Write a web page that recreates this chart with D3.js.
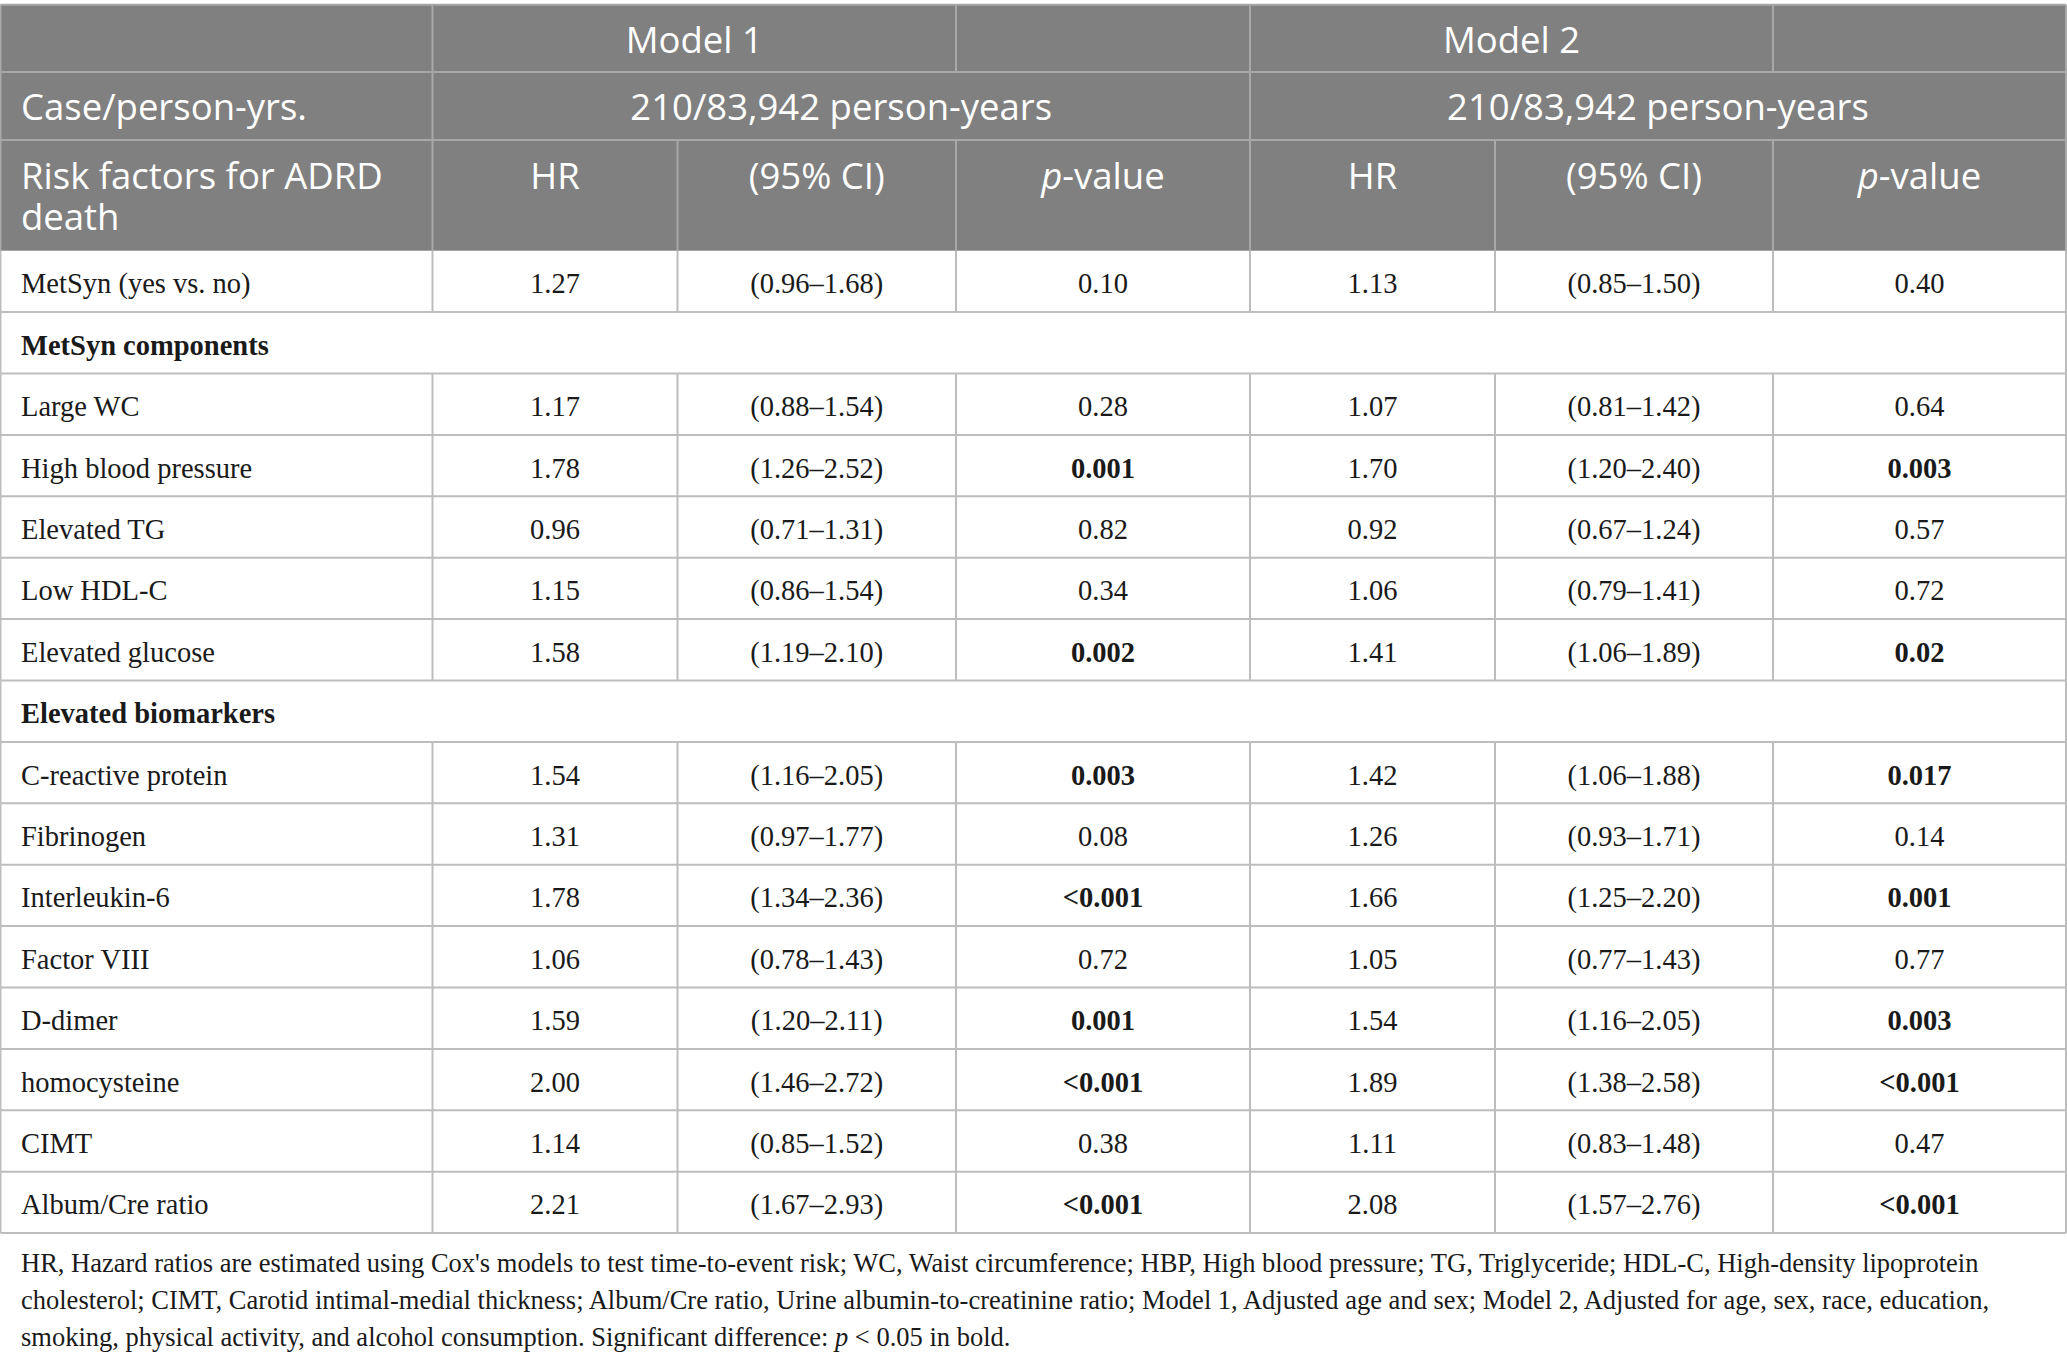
<!DOCTYPE html>
<html>
<head>
<meta charset="utf-8">
<script src="https://cdn.jsdelivr.net/npm/d3@7"></script>
<style>
  html, body { margin: 0; padding: 0; background: #fff; }
  svg { display: block; }
</style>
</head>
<body>
<svg id="chart" width="2067" height="1360"></svg>
<script>
// ---------------- DATA ----------------
const rowLabels = [
  "MetSyn (yes vs. no)", "MetSyn components", "Large WC", "High blood pressure",
  "Elevated TG", "Low HDL-C", "Elevated glucose", "Elevated biomarkers",
  "C-reactive protein", "Fibrinogen", "Interleukin-6", "Factor VIII",
  "D-dimer", "homocysteine", "CIMT", "Album/Cre ratio"
];
const sectionRows = ["MetSyn components", "Elevated biomarkers"];

const hrModel1   = [1.27, null, 1.17, 1.78, 0.96, 1.15, 1.58, null, 1.54, 1.31, 1.78, 1.06, 1.59, 2.00, 1.14, 2.21];
const ciLoModel1 = [0.96, null, 0.88, 1.26, 0.71, 0.86, 1.19, null, 1.16, 0.97, 1.34, 0.78, 1.20, 1.46, 0.85, 1.67];
const ciHiModel1 = [1.68, null, 1.54, 2.52, 1.31, 1.54, 2.10, null, 2.05, 1.77, 2.36, 1.43, 2.11, 2.72, 1.52, 2.93];
const pModel1    = ["0.10", null, "0.28", "0.001", "0.82", "0.34", "0.002", null, "0.003", "0.08", "<0.001", "0.72", "0.001", "<0.001", "0.38", "<0.001"];

const hrModel2   = [1.13, null, 1.07, 1.70, 0.92, 1.06, 1.41, null, 1.42, 1.26, 1.66, 1.05, 1.54, 1.89, 1.11, 2.08];
const ciLoModel2 = [0.85, null, 0.81, 1.20, 0.67, 0.79, 1.06, null, 1.06, 0.93, 1.25, 0.77, 1.16, 1.38, 0.83, 1.57];
const ciHiModel2 = [1.50, null, 1.42, 2.40, 1.24, 1.41, 1.89, null, 1.88, 1.71, 2.20, 1.43, 2.05, 2.58, 1.48, 2.76];
const pModel2    = ["0.40", null, "0.64", "0.003", "0.57", "0.72", "0.02", null, "0.017", "0.14", "0.001", "0.77", "0.003", "<0.001", "0.47", "<0.001"];

const modelNames = ["Model 1", "Model 2"];
const casePersonYears = ["210/83,942 person-years", "210/83,942 person-years"];
const subHeaders = ["HR", "(95% CI)", "p-value"];
const footnoteLines = [
  "HR, Hazard ratios are estimated using Cox's models to test time-to-event risk; WC, Waist circumference; HBP, High blood pressure; TG, Triglyceride; HDL-C, High-density lipoprotein",
  "cholesterol; CIMT, Carotid intimal-medial thickness; Album/Cre ratio, Urine albumin-to-creatinine ratio; Model 1, Adjusted age and sex; Model 2, Adjusted for age, sex, race, education,",
  "smoking, physical activity, and alcohol consumption. Significant difference: |p| < 0.05 in bold."
];

// ---------------- LAYOUT ----------------
const colEdges = [0.5, 432.5, 677.5, 956, 1250, 1495, 1773, 2066];
const headerEdges = [4.7, 72, 140, 250.7];
const bodyTop = 250.7, bodyBottom = 1233.1;

const HEAD_FILL = "#808080";
const HEAD_LINE = "#a8a8a8";
const BODY_LINE = "#bdbdbd";
const TEXT = "#1a1a1a";
const SANS = "'Open Sans', 'Noto Sans', sans-serif";
const SERIF = "'Liberation Serif', 'Times New Roman', serif";

const svg = d3.select("#chart");

const y = d3.scaleBand().domain(rowLabels).range([bodyTop, bodyBottom]).padding(0);
const colCenter = i => (colEdges[i] + colEdges[i + 1]) / 2;

// ---------------- HEADER ----------------
svg.append("rect")
  .attr("x", colEdges[0]).attr("y", headerEdges[0])
  .attr("width", colEdges[7] - colEdges[0]).attr("height", headerEdges[3] - headerEdges[0])
  .attr("fill", HEAD_FILL);

const hLines = svg.append("g").attr("stroke", HEAD_LINE).attr("stroke-width", 2);
headerEdges.slice(0, 3).forEach(yy => {
  hLines.append("line").attr("x1", colEdges[0]).attr("x2", colEdges[7]).attr("y1", yy).attr("y2", yy);
});
[0, 1, 3, 4, 6, 7].forEach(ci => {
  hLines.append("line").attr("x1", colEdges[ci]).attr("x2", colEdges[ci])
    .attr("y1", headerEdges[0]).attr("y2", headerEdges[1]);
});
[0, 1, 4, 7].forEach(ci => {
  hLines.append("line").attr("x1", colEdges[ci]).attr("x2", colEdges[ci])
    .attr("y1", headerEdges[1]).attr("y2", headerEdges[2]);
});
d3.range(8).forEach(ci => {
  hLines.append("line").attr("x1", colEdges[ci]).attr("x2", colEdges[ci])
    .attr("y1", headerEdges[2]).attr("y2", headerEdges[3]);
});

const headText = svg.append("g").attr("fill", "#ffffff")
  .attr("font-family", SANS).attr("font-size", 36.5);

modelNames.forEach((m, k) => {
  const x0 = colEdges[1 + 3 * k], x1 = colEdges[3 + 3 * k];
  headText.append("text").attr("x", (x0 + x1) / 2).attr("y", 52.5)
    .attr("text-anchor", "middle").text(m);
});
headText.append("text").attr("x", 21).attr("y", 119.5).text("Case/person-yrs.");
casePersonYears.forEach((t, k) => {
  const x0 = colEdges[1 + 3 * k], x1 = colEdges[4 + 3 * k];
  headText.append("text").attr("x", (x0 + x1) / 2).attr("y", 119.5)
    .attr("text-anchor", "middle").text(t);
});
const rf = headText.append("text").attr("x", 21).attr("y", 188.5);
rf.append("tspan").attr("x", 21).text("Risk factors for ADRD");
rf.append("tspan").attr("x", 21).attr("dy", 41.5).text("death");

[0, 1].forEach(k => {
  subHeaders.forEach((s, j) => {
    const t = headText.append("text").attr("x", colCenter(1 + 3 * k + j)).attr("y", 188.5)
      .attr("text-anchor", "middle");
    if (s.startsWith("p-")) {
      t.append("tspan").attr("font-style", "italic").text("p");
      t.append("tspan").text(s.slice(1));
    } else {
      t.text(s);
    }
  });
});

// ---------------- BODY ----------------
const isSig = s => s != null && parseFloat(s.replace("<", "")) < 0.05;
const fmt = d3.format(".2f");
const rows = rowLabels.map((label, i) => ({
  label,
  section: sectionRows.includes(label),
  cells: hrModel1[i] == null ? [] : [
    { text: fmt(hrModel1[i]), bold: false },
    { text: "(" + fmt(ciLoModel1[i]) + "\u2013" + fmt(ciHiModel1[i]) + ")", bold: false },
    { text: pModel1[i], bold: isSig(pModel1[i]) },
    { text: fmt(hrModel2[i]), bold: false },
    { text: "(" + fmt(ciLoModel2[i]) + "\u2013" + fmt(ciHiModel2[i]) + ")", bold: false },
    { text: pModel2[i], bold: isSig(pModel2[i]) }
  ]
}));

const bLines = svg.append("g").attr("stroke", BODY_LINE).attr("stroke-width", 2);
rowLabels.forEach(label => {
  bLines.append("line").attr("x1", colEdges[0]).attr("x2", colEdges[7])
    .attr("y1", y(label) + y.bandwidth()).attr("y2", y(label) + y.bandwidth());
});
rows.forEach(r => {
  const cols = r.section ? [0, 7] : d3.range(8);
  cols.forEach(ci => {
    bLines.append("line").attr("x1", colEdges[ci]).attr("x2", colEdges[ci])
      .attr("y1", y(r.label)).attr("y2", y(r.label) + y.bandwidth());
  });
});

const body = svg.append("g").attr("font-family", SERIF).attr("font-size", 28.5).attr("fill", TEXT);
rows.forEach(r => {
  const base = y(r.label) + y.bandwidth() / 2 + 12;
  body.append("text").attr("x", 21).attr("y", base)
    .attr("font-weight", r.section ? "bold" : "normal").text(r.label);
  r.cells.forEach((c, j) => {
    body.append("text").attr("x", colCenter(j + 1)).attr("y", base)
      .attr("text-anchor", "middle")
      .attr("font-weight", c.bold ? "bold" : "normal")
      .text(c.text);
  });
});

// ---------------- FOOTNOTE ----------------
const foot = svg.append("g").attr("font-family", SERIF).attr("font-size", 26.5).attr("fill", TEXT);
footnoteLines.forEach((line, i) => {
  const t = foot.append("text").attr("x", 21).attr("y", 1272 + i * 37);
  line.split("|").forEach((p, k) => {
    const ts = t.append("tspan").text(p);
    if (k % 2 === 1) ts.attr("font-style", "italic");
  });
});
</script>
</body>
</html>
